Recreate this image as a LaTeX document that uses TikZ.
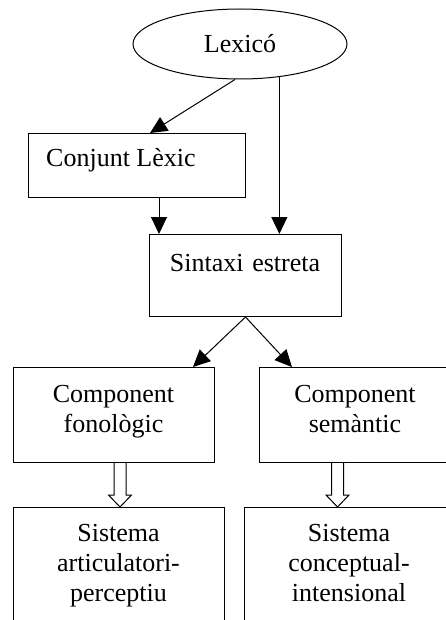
\documentclass[tikz,border=0pt]{standalone}
\usepackage{fontspec}
\setmainfont{Liberation Serif}
\usetikzlibrary{shapes.geometric,arrows.meta,calc}
\begin{document}
\begin{tikzpicture}[x=1pt,y=-1pt,
  box/.style={draw,line width=1pt,rectangle,anchor=north west,inner sep=0pt},
  txt/.style={font=\fontsize{26}{30}\selectfont,inner sep=0pt,text width=210pt,align=center,anchor=base},
  arr/.style={line width=1pt,-{Triangle[length=17pt,width=16pt]}},
  hol/.style={line width=1pt,line join=miter}]
\useasboundingbox (0,0) rectangle (446,620);
\clip (0,0) rectangle (446,620);
% nodes
\node[draw,line width=1pt,ellipse,minimum width=214pt,minimum height=70pt,inner sep=0pt,
      font=\fontsize{26}{30}\selectfont] (lex) at (240,44) {Lexicó};
\node[box,minimum width=217pt,minimum height=64pt] (conj) at (28,133) {};
\node[box,minimum width=192pt,minimum height=82pt] (sint) at (149,234) {};
\node[box,minimum width=201pt,minimum height=95pt] (cfon) at (13,367) {};
\node[box,minimum width=195pt,minimum height=95pt] (csem) at (259,367) {};
\node[box,minimum width=211pt,minimum height=130pt] (asp) at (13,507) {};
\node[box,minimum width=210pt,minimum height=130pt] (asc) at (244,507) {};
% texts
\node[font=\fontsize{26}{30}\selectfont,inner sep=0pt,anchor=base west] (tconj) at (46,167) {Conjunt Lèxic};
\node[txt] (tsint) at (245,271) {Sintaxi estreta};
\node[txt] (tcfon) at (113.5,402) {Component\\fonològic};
\node[txt] (tcsem) at (355,402) {Component\\semàntic};
\node[txt] (tasp) at (118.5,541) {Sistema\\articulatori-\\perceptiu};
\node[txt] (tasc) at (349,541) {Sistema\\conceptual-\\intensional};
% connectors
\draw[arr] ([xshift=-5pt]lex.south) -- ([xshift=122pt]conj.north west);
\draw[arr] (lex.-40) -- (lex.-40 |- sint.north);
\coordinate (c1) at ([xshift=131pt]conj.south west);
\draw[arr] (c1) -- (c1 |- sint.north);
\draw[arr] (sint.south) -- ([xshift=180pt]cfon.north west);
\draw[arr] (sint.south) -- ([xshift=33pt]csem.north west);
% hollow arrows
\coordinate (hb1) at ([xshift=107pt]asp.north west);
\coordinate (ht1) at (hb1 |- cfon.south);
\coordinate (hb2) at ([xshift=93.5pt]asc.north west);
\coordinate (ht2) at (hb2 |- csem.south);
\draw[hol] ($(ht1)+(-6,0)$) -- ($(hb1)+(-6,-12)$) -- ($(hb1)+(-11.5,-12)$) -- (hb1)
  -- ($(hb1)+(11.5,-12)$) -- ($(hb1)+(6,-12)$) -- ($(ht1)+(6,0)$);
\draw[hol] ($(ht2)+(-6,0)$) -- ($(hb2)+(-6,-12)$) -- ($(hb2)+(-11.5,-12)$) -- (hb2)
  -- ($(hb2)+(11.5,-12)$) -- ($(hb2)+(6,-12)$) -- ($(ht2)+(6,0)$);
\end{tikzpicture}
\end{document}
